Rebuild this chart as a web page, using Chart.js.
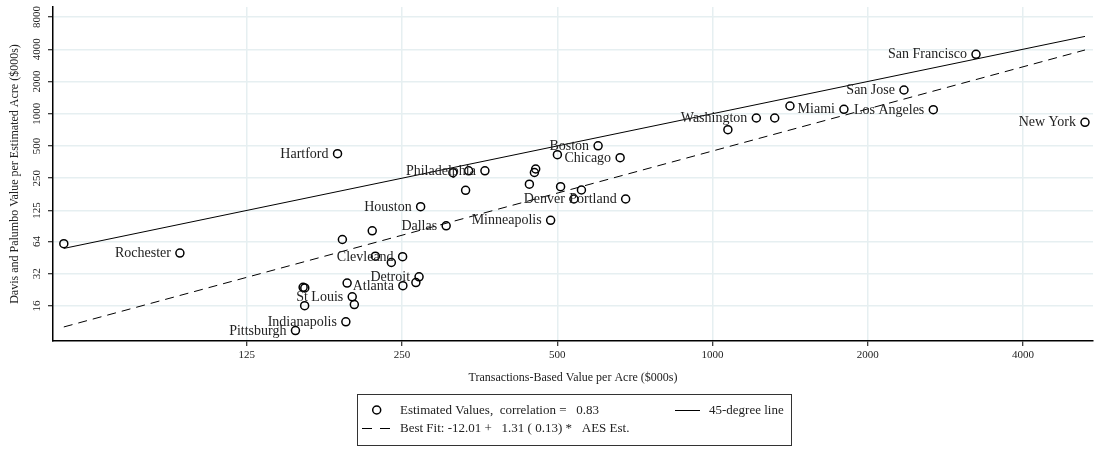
<!DOCTYPE html>
<html>
<head>
<meta charset="utf-8">
<script src="https://cdn.jsdelivr.net/npm/chart.js@4.4.1/dist/chart.umd.min.js"></script>
<style>
  html, body { margin: 0; padding: 0; background: #fff; }
  #wrap { position: relative; width: 1094px; height: 451px; }
</style>
</head>
<body>
<div id="wrap"><canvas id="chart"></canvas></div>
<script>
// ── DATA ──
const CITY_NAMES = [
  '', 'Rochester', 'Hartford', '', '', 'Clevleand', '', '', '', '',
  '', '', 'St Louis', '', 'Indianapolis', 'Pittsburgh', 'Atlanta', 'Detroit', '', 'Houston',
  'Dallas', 'Minneapolis', '', '', 'Philadelphia', '', '', '', '', '',
  'Boston', 'Chicago', '', '', 'Denver', 'Portland', '', 'Washington', '', '',
  'Miami', 'Los Angeles', 'San Jose', 'San Francisco', 'New York'
];
// transactions-based value per acre ($000s)
const TRANS_VALUES = [
  55.2, 92.7, 187.4, 191.5, 218.8, 250.6, 221.9, 238.3, 160.7, 161.9,
  161.8, 195.6, 200.1, 202.0, 194.5, 155.3, 250.9, 269.7, 265.9, 271.6,
  304.4, 485.3, 313.7, 336.6, 361.9, 332.0, 441.4, 454.0, 451.4, 500.2,
  599.9, 661.9, 507.4, 556.9, 538.5, 678.4, 1071, 1216, 1320, 1413,
  1798, 2680, 2351, 3243, 5276
];
// Davis and Palumbo value per estimated acre ($000s)
const DP_VALUES = [
  61.1, 50.0, 423.2, 66.9, 80.6, 46.2, 46.7, 40.8, 23.9, 23.6,
  16.1, 26.2, 19.5, 16.5, 11.4, 9.44, 24.8, 30.0, 26.5, 135.4,
  89.8, 101.1, 281.3, 293.0, 293.0, 192.7, 219.7, 304.6, 282.5, 414.2,
  501.7, 388.4, 208.2, 193.9, 159.8, 159.8, 709.2, 912.2, 912.0, 1181,
  1100, 1090, 1666, 3589, 831.7
];
const LINE_X = [55.2, 5276];
const DIAG_Y = [55.2, 5276];
const FIT_Y = [10.2, 3938];

const X_TICKS = [125, 250, 500, 1000, 2000, 4000];
const Y_TICKS = [16, 32, 64, 125, 250, 500, 1000, 2000, 4000, 8000];

const LEGEND_LABELS = [
  'Estimated Values,  correlation =   0.83',
  '45-degree line',
  'Best Fit: -12.01 +   1.31 ( 0.13) *   AES Est.'
];

Chart.defaults.font.family = '"Liberation Serif", "Times New Roman", serif';
Chart.defaults.color = '#222';

// ── CITY LABELS (left of each marker) ──
const cityLabels = {
  id: 'cityLabels',
  afterDatasetsDraw(chart) {
    const meta = chart.getDatasetMeta(0);
    const ctx = chart.ctx;
    ctx.save();
    ctx.font = '14px "Liberation Serif"';
    ctx.fillStyle = '#222';
    ctx.textAlign = 'right';
    ctx.textBaseline = 'middle';
    meta.data.forEach((pt, i) => {
      if (CITY_NAMES[i]) ctx.fillText(CITY_NAMES[i], pt.x - 9, pt.y + 0.5);
    });
    ctx.restore();
  }
};

// ── BOXED LEGEND ──
const boxLegend = {
  id: 'boxLegend',
  afterDraw(chart) {
    const ctx = chart.ctx;
    const ds = chart.data.datasets;
    ctx.save();
    ctx.strokeStyle = '#333';
    ctx.lineWidth = 1;
    ctx.strokeRect(357.5, 394.5, 434, 51);

    ctx.font = '13px "Liberation Serif"';
    ctx.fillStyle = '#222';
    ctx.textAlign = 'left';
    ctx.textBaseline = 'middle';

    // row 1: markers
    ctx.beginPath();
    ctx.arc(376.7, 410, 4, 0, Math.PI * 2);
    ctx.strokeStyle = ds[0].borderColor;
    ctx.lineWidth = ds[0].borderWidth;
    ctx.stroke();
    ctx.fillText(ds[0].label, 400, 410.5);

    ctx.beginPath();
    ctx.moveTo(675, 410.5); ctx.lineTo(700, 410.5);
    ctx.strokeStyle = ds[1].borderColor;
    ctx.lineWidth = ds[1].borderWidth;
    ctx.stroke();
    ctx.fillText(ds[1].label, 709, 410.5);

    // row 2: best fit
    ctx.beginPath();
    ctx.setLineDash([10, 8]);
    ctx.moveTo(362, 428.5); ctx.lineTo(390, 428.5);
    ctx.strokeStyle = ds[2].borderColor;
    ctx.lineWidth = ds[2].borderWidth;
    ctx.stroke();
    ctx.setLineDash([]);
    ctx.fillText(ds[2].label, 400, 429);
    ctx.restore();
  }
};

new Chart(document.getElementById('chart'), {
  type: 'scatter',
  data: {
    datasets: [
      {
        label: LEGEND_LABELS[0],
        data: TRANS_VALUES.map((x, i) => ({ x, y: DP_VALUES[i] })),
        pointStyle: 'circle', pointRadius: 4, pointBorderWidth: 1.5,
        borderColor: '#000', borderWidth: 1.5, backgroundColor: 'rgba(0,0,0,0)'
      },
      {
        label: LEGEND_LABELS[1], type: 'line',
        data: LINE_X.map((x, i) => ({ x, y: DIAG_Y[i] })),
        borderColor: '#000', borderWidth: 1, pointRadius: 0, fill: false
      },
      {
        label: LEGEND_LABELS[2], type: 'line',
        data: LINE_X.map((x, i) => ({ x, y: FIT_Y[i] })),
        borderColor: '#000', borderWidth: 1, borderDash: [9, 6], pointRadius: 0, fill: false
      }
    ]
  },
  options: {
    responsive: true, maintainAspectRatio: false, animation: false,
    layout: { autoPadding: false, padding: { top: 7, right: 1, left: 0, bottom: 0 } },
    plugins: { legend: { display: false }, tooltip: { enabled: false } },
    scales: {
      x: {
        type: 'logarithmic', position: 'bottom', min: 52.6, max: 5468, bounds: 'data',
        afterBuildTicks: s => { s.ticks = X_TICKS.map(v => ({ value: v })); },
        afterFit: s => { s.height = 110; s.paddingLeft = 0; s.paddingRight = 0; },
        ticks: { callback: v => String(v), autoSkip: false, minRotation: 0, maxRotation: 0, padding: 3, color: '#222', font: { size: 11 } },
        grid: { color: '#e6eff1', lineWidth: 1.5, tickColor: '#000', tickLength: 5, tickWidth: 1 },
        border: { color: '#000', width: 1.5 },
        title: { display: true, text: 'Transactions-Based Value per Acre ($000s)', color: '#222', font: { size: 12 }, padding: { top: 0, bottom: 65.8 } }
      },
      y: {
        type: 'logarithmic', position: 'left', min: 7.54, max: 9928, bounds: 'data',
        afterBuildTicks: s => { s.ticks = Y_TICKS.map(v => ({ value: v })); },
        afterFit: s => { s.width = 53; s.paddingTop = 0; s.paddingBottom = 0; },
        ticks: { callback: v => String(v), autoSkip: false, minRotation: 90, maxRotation: 90, crossAlign: 'center', padding: 0, color: '#222', font: { size: 11 } },
        grid: { color: '#e6eff1', lineWidth: 1.5, tickColor: '#000', tickLength: 5, tickWidth: 1 },
        border: { color: '#000', width: 1.5 },
        title: { display: true, text: 'Davis and Palumbo Value per Estimated Acre ($000s)', color: '#222', font: { size: 12 }, padding: { top: 7.3, bottom: 0 } }
      }
    }
  },
  plugins: [cityLabels, boxLegend]
});
</script>
</body>
</html>
